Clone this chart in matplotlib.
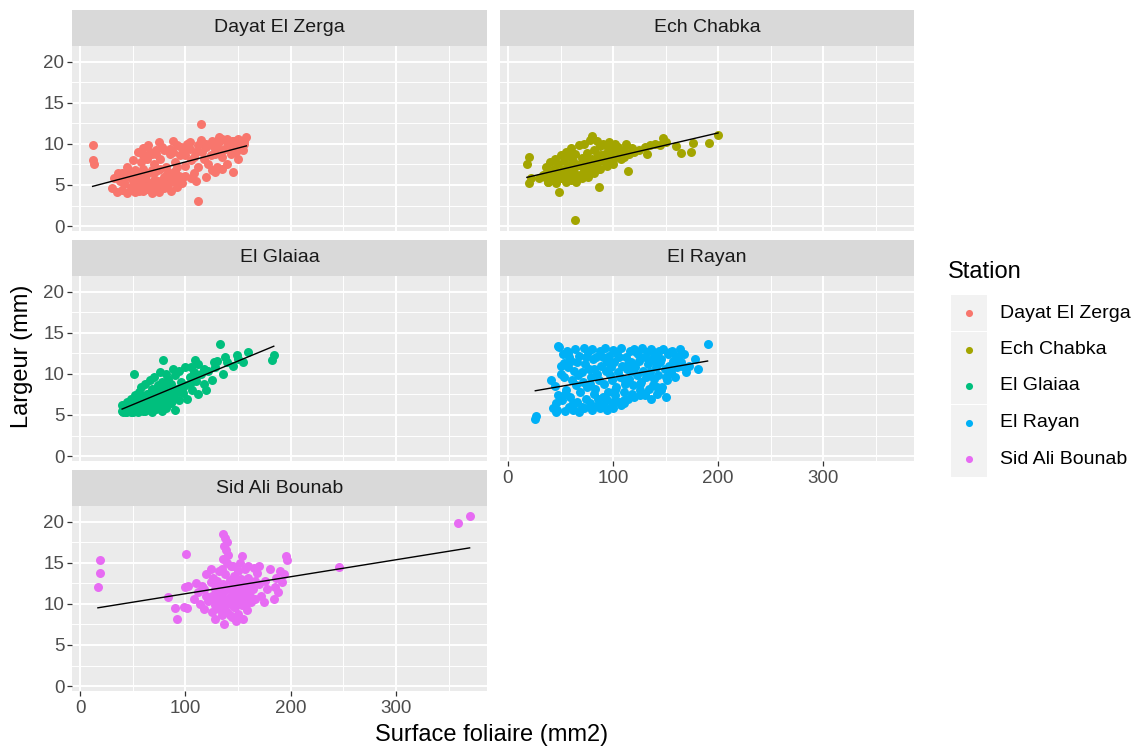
import numpy as np
import matplotlib
matplotlib.use("Agg")
import matplotlib.pyplot as plt
from matplotlib.patches import Rectangle

plt.rcParams["font.family"] = ["Liberation Sans", "DejaVu Sans"]

# ---- data: leaf area (mm2) vs leaf width (mm), per station ----
stations = ["Dayat El Zerga", "Ech Chabka", "El Glaiaa", "El Rayan", "Sid Ali Bounab"]
colors = ["#F8766D", "#A3A500", "#00BF7D", "#00B0F6", "#E76BF3"]

zerga_x = [12, 12, 13, 112, 115, 158, 155,
           30, 35, 40, 42, 45, 48, 50, 52, 55, 55, 58, 60, 60, 62, 64, 65, 67, 68, 70, 70,
           72, 74, 75, 76, 78, 80, 80, 82, 84, 85, 86, 88, 90, 90, 92, 95,
           40, 45, 50, 52, 55, 58, 60, 62, 65, 68, 72, 75, 78, 85, 88, 92, 95, 98, 100, 102,
           105, 108, 110, 112, 115, 118, 120, 120, 122, 125, 125, 128, 130, 130, 132, 135,
           135, 138, 140, 140, 143, 145, 145, 148, 150, 150, 152, 105, 110, 100, 97, 128,
           38, 42, 46, 50, 54, 58, 62, 66, 70, 74, 78, 82, 86, 90, 94,
           44, 52, 60, 68, 76, 84, 92, 48, 56, 64, 72, 80, 88,
           100, 104, 108, 112, 116, 120, 124, 128, 132, 136, 140, 144, 148, 152, 156,
           32, 36, 44, 48, 140, 146, 150, 154, 156, 130, 135, 125,
           60, 66, 72, 80, 88, 96, 104, 64]
zerga_y = [9.8, 8.0, 7.5, 3.0, 12.4, 10.8, 9.3,
           4.6, 4.2, 4.4, 5.3, 4.0, 4.8, 5.5, 4.1, 4.6, 6.2, 5.0, 4.3, 7.0, 5.8, 4.5, 6.5, 5.2, 4.0, 7.5, 5.6,
           4.8, 6.8, 4.2, 8.2, 5.5, 6.0, 4.6, 7.2, 5.0, 8.8, 4.3, 6.4, 5.3, 7.8, 4.8, 6.0,
           6.5, 7.2, 8.0, 6.8, 9.0, 7.8, 9.5, 8.4, 9.8, 8.8, 9.2, 10.2, 9.6, 9.4, 10.3, 9.8, 8.6, 9.2, 7.3, 10.0,
           8.0, 6.5, 9.0, 7.2, 10.5, 8.2, 6.0, 9.6, 7.6, 10.4, 6.8, 8.8, 9.9, 7.2, 10.8, 8.4,
           7.0, 9.4, 7.6, 10.2, 8.8, 9.8, 6.6, 10.3, 8.2, 9.6, 10.0, 5.8, 5.5, 6.1, 5.2, 6.6,
           5.5, 5.1, 6.1, 4.9, 5.7, 5.3, 5.9, 4.9, 6.5, 5.5, 5.1, 6.1, 5.7, 6.7, 6.1,
           6.0, 5.8, 6.4, 6.8, 7.0, 6.6, 7.2, 4.4, 4.3, 4.9, 4.4, 5.2, 5.8,
           8.6, 9.4, 8.4, 9.8, 9.0, 10.0, 8.6, 9.4, 10.2, 9.2, 9.6, 10.4, 9.0, 9.8, 10.4,
           5.8, 6.4, 6.2, 6.6, 10.6, 10.4, 10.6, 10.2, 10.0, 10.4, 10.6, 9.8,
           8.6, 9.0, 8.8, 9.2, 9.0, 9.6, 10.2, 8.2]

chabka_x = [18, 20, 20, 22, 49, 64, 87, 114, 148, 165, 174, 176, 160, 191, 200,
            35, 36, 38, 40, 40, 42, 44, 45, 46, 48, 48, 50, 50, 52, 53, 55, 55, 56, 58, 58,
            60, 60, 62, 62, 64, 65, 66, 67, 68, 70, 70, 72, 72, 74, 75, 76, 78, 78, 80, 80,
            82, 82, 84, 85, 86, 88, 88, 90, 90, 92, 94, 95, 96, 98, 100, 100, 102, 104, 105,
            108, 110, 112, 115, 118, 120, 125, 130, 135, 140, 132, 145, 150,
            30, 33, 37, 41, 45, 49, 53, 57, 61, 65, 69, 73, 77, 81, 85, 89, 93, 97, 101, 105,
            38, 46, 54, 62, 70, 78, 86, 94, 100, 110, 60]
chabka_y = [7.5, 8.45, 5.2, 5.8, 4.2, 0.7, 4.8, 6.7, 10.7, 8.9, 9.0, 10.1, 9.7, 10.1, 11.1,
            6.0, 7.2, 5.3, 6.5, 7.8, 5.6, 6.9, 8.2, 5.2, 6.2, 7.5, 5.8, 8.6, 6.8, 7.9, 5.4, 9.0, 6.4, 7.3, 8.5,
            5.6, 9.5, 6.7, 7.9, 8.8, 5.3, 6.2, 7.4, 9.8, 8.3, 5.8, 6.9, 10.0, 7.6, 8.9, 6.0, 10.5, 7.2, 11.0, 8.1,
            6.4, 9.3, 7.6, 10.3, 8.6, 6.9, 9.7, 7.9, 10.0, 8.8, 7.3, 9.5, 10.2, 8.3, 9.0, 7.6, 10.0, 8.7, 9.6,
            8.2, 9.3, 10.0, 8.8, 9.5, 9.0, 9.3, 9.6, 9.8, 10.0, 8.8, 9.8, 10.2,
            5.8, 6.2, 6.0, 6.4, 6.6, 6.3, 6.8, 7.0, 6.8, 7.3, 7.6, 7.4, 7.9, 8.0, 8.2, 8.6, 8.4, 8.9, 9.2, 9.0,
            5.4, 5.6, 5.9, 6.0, 6.3, 6.6, 7.0, 7.6, 8.0, 8.4, 6.2]

glaiaa_x = [133, 184, 182, 51, 79, 109, 120, 127, 155, 149, 136, 125,
            40, 40, 42, 44, 45, 46, 48, 48, 50, 52, 52, 54, 55, 56, 57, 58, 60, 60, 62, 62,
            64, 64, 66, 66, 68, 68, 70, 70, 72, 72, 74, 74, 76, 76, 78, 78, 80, 80, 82, 82,
            84, 84, 86, 86, 88, 88, 90, 90, 92, 94, 94, 96, 98, 100, 100, 102, 104, 106, 108,
            110, 112, 115, 118, 122, 128, 140, 145,
            41, 43, 45, 47, 49, 51, 53, 55, 57, 59, 61, 63, 65, 67, 69, 71, 73, 75, 77, 79,
            81, 83, 85, 87, 89, 44, 50, 56, 62, 68, 74, 80, 86, 92, 98, 104, 110,
            105, 112, 118, 130, 138, 150, 160]
glaiaa_y = [13.6, 12.3, 11.7, 10.0, 11.65, 11.65, 8.0, 11.45, 11.4, 12.3, 10.0, 9.3,
            5.5, 6.2, 5.8, 5.3, 6.6, 5.9, 5.4, 7.0, 6.2, 5.6, 7.4, 6.6, 5.3, 7.8, 6.0, 8.4, 5.5, 7.1, 6.5, 8.8,
            5.8, 7.6, 9.2, 6.9, 5.4, 8.2, 6.2, 9.6, 7.4, 5.7, 8.6, 6.6, 10.2, 7.9, 5.5, 9.0, 6.8, 8.3, 10.0, 5.8,
            7.5, 9.4, 6.4, 8.8, 10.6, 7.2, 5.6, 9.8, 8.1, 6.8, 10.4, 9.0, 7.7, 10.8, 8.6, 6.9, 9.6, 8.0, 10.2,
            9.1, 7.6, 10.0, 8.8, 10.4, 10.8, 11.4, 11.0,
            5.4, 6.0, 5.6, 6.3, 5.8, 6.6, 6.1, 6.9, 6.4, 7.1, 6.7, 7.3, 6.0, 7.6, 6.5, 7.9, 7.0, 8.1, 6.6, 8.4,
            7.3, 8.7, 6.9, 8.2, 7.5, 5.3, 5.4, 5.6, 5.5, 5.7, 5.9, 6.2, 6.6, 7.8, 8.4, 8.8, 9.6,
            10.8, 11.2, 10.6, 11.6, 12.0, 11.8, 12.6]

rayan_x = [26, 27, 190, 181, 178, 172, 41, 43, 46, 48, 53, 57,
           45, 47, 46, 49, 50, 48, 52, 53, 51, 54, 56, 57, 55, 58, 60, 61, 59, 62,
           64, 63, 65, 66, 68, 67, 69, 70, 68, 72, 73, 71, 74, 72, 76, 77, 75, 78,
           80, 81, 79, 82, 80, 84, 85, 83, 86, 88, 89, 87, 90, 88, 92, 93, 91, 94,
           96, 97, 95, 98, 100, 101, 99, 102, 100, 104, 105, 103, 106, 108, 109, 107, 110, 108,
           112, 113, 111, 114, 116, 117, 115, 118, 120, 121, 119, 124, 125, 123, 126,
           128, 129, 127, 130, 132, 133, 131, 134, 136, 137, 135, 138, 136, 140, 141, 139, 142,
           144, 145, 143, 146, 148, 149, 147, 150, 152, 153, 151, 156, 157, 155, 160, 161, 159,
           164, 165, 168, 169,
           50, 58, 66, 74, 82, 90, 98, 106, 114, 122, 130, 138, 146, 154, 162,
           54, 62, 70, 78, 86, 94, 102, 110, 118, 126, 134, 142, 150, 158, 166,
           62, 78, 94, 110, 126, 142, 100, 120, 130, 90, 110]
rayan_y = [4.5, 4.9, 13.6, 10.6, 11.8, 11.0, 9.2, 5.9, 5.3, 13.4, 11.3, 12.5,
           8.5, 5.6, 6.4, 13.3, 11.0, 7.4, 12.4, 9.6, 6.8, 5.5, 12.8, 10.8, 8.0, 6.0, 11.6, 9.2, 7.2, 5.6,
           13.0, 10.4, 8.6, 6.6, 12.2, 9.8, 7.8, 6.0, 5.4, 13.2, 11.2, 9.0, 7.0, 5.8, 12.6, 10.6, 8.4, 6.4,
           13.0, 11.8, 9.6, 7.6, 5.6, 12.0, 10.0, 8.2, 6.2, 12.8, 11.0, 9.2, 7.2, 5.8, 13.2, 10.4, 8.8, 6.8,
           12.2, 9.8, 7.8, 6.0, 12.9, 11.4, 9.2, 7.4, 5.8, 12.4, 10.2, 8.4, 6.6, 13.1, 11.0, 9.6, 7.8, 6.2,
           12.0, 10.6, 8.8, 7.0, 12.8, 11.4, 9.4, 7.6, 13.0, 10.8, 8.6, 12.4, 11.6, 9.8, 8.0,
           13.2, 10.4, 9.0, 7.4, 12.6, 11.2, 9.6, 8.2, 13.0, 11.8, 10.2, 8.6, 7.0, 12.2, 10.8, 9.4, 7.6,
           12.8, 11.4, 9.8, 8.0, 13.0, 10.6, 8.4, 7.2, 12.4, 11.0, 9.2, 12.8, 11.6, 10.2, 12.2, 10.8, 9.6,
           13.0, 11.4, 12.4, 10.2,
           10.0, 12.0, 11.4, 12.0, 10.6, 12.0, 10.8, 12.0, 11.2, 12.6, 12.0, 12.6, 11.8, 12.6, 12.0,
           7.6, 6.4, 10.2, 8.8, 7.0, 11.4, 8.0, 9.4, 10.4, 8.8, 10.0, 11.2, 9.6, 11.4, 11.0,
           5.9, 6.0, 5.6, 6.4, 7.4, 8.4, 6.6, 7.2, 7.6, 6.2, 6.8]

bounab_x = [19, 19, 17, 359, 370, 246, 101, 103, 90, 92, 102, 84, 128, 137,
            136, 138, 140, 137, 139, 141, 136, 140, 143, 135, 154,
            196, 197, 190, 186, 192, 185, 188, 184, 194, 180, 176, 172, 175, 168, 165, 162, 170,
            112, 114, 116, 118, 120, 120, 122, 124, 125, 126, 128, 130, 130, 132, 132, 134, 135,
            136, 138, 138, 140, 140, 142, 143, 144, 145, 146, 147, 148, 149, 150, 150, 152, 153,
            154, 155, 156, 157, 158, 159, 160, 162, 164, 166, 155, 148, 128, 118, 110, 108, 100,
            99, 124, 133, 145, 152, 160, 142,
            125, 128, 131, 134, 137, 140, 143, 146, 149, 152, 155, 158, 161,
            130, 136, 142, 148, 154, 160, 166, 170, 178]
bounab_y = [15.3, 13.8, 12.0, 19.8, 20.7, 14.5, 16.1, 12.2, 9.5, 8.2, 9.5, 10.8, 8.2, 7.5,
            18.5, 18.0, 17.5, 17.0, 16.5, 16.0, 15.5, 15.0, 14.6, 14.2, 15.8,
            15.8, 15.3, 14.0, 13.2, 12.6, 12.0, 11.4, 10.6, 13.6, 14.2, 12.8, 11.0, 10.2, 13.8, 14.4, 12.4, 14.6,
            11.5, 10.0, 12.2, 9.4, 13.6, 11.0, 10.4, 12.6, 9.0, 13.2, 11.8, 10.2, 12.8, 9.4, 14.0, 11.2, 8.6,
            12.4, 10.6, 13.6, 9.0, 11.8, 12.9, 10.0, 8.4, 11.4, 13.4, 9.6, 12.2, 10.6, 14.0, 8.8, 11.8, 13.0,
            9.8, 12.4, 10.8, 14.2, 11.4, 9.2, 13.2, 10.2, 11.8, 12.8, 8.2, 7.9, 10.6, 11.8, 12.5, 10.6, 12.0,
            9.6, 14.2, 12.0, 14.6, 15.0, 14.6, 8.6,
            11.0, 9.8, 12.2, 10.4, 11.6, 10.0, 12.0, 9.6, 11.2, 10.4, 11.6, 10.0, 11.0,
            11.4, 9.6, 10.8, 12.6, 11.2, 12.0, 10.6, 12.4, 11.8]

series_x = [zerga_x, chabka_x, glaiaa_x, rayan_x, bounab_x]
series_y = [zerga_y, chabka_y, glaiaa_y, rayan_y, bounab_y]

x_ticks = [0, 100, 200, 300]
y_ticks = [0, 5, 10, 15, 20]

# ---- figure layout (pixel boxes) ----
W, H = 1141, 751
fig = plt.figure(figsize=(W / 100, H / 100), dpi=100)
fig.patch.set_facecolor("white")


def box(x0, y0, x1, y1):
    return fig.add_axes([x0 / W, 1 - y1 / H, (x1 - x0) / W, (y1 - y0) / H])


cols = [(72, 487), (500, 914)]
rows = [(10, 46, 231), (240, 276, 461), (470, 506, 691)]
positions = [(0, 0), (0, 1), (1, 0), (1, 1), (2, 0)]
bottom_panels = {3, 4}

XLIM = (-7.6, 386.5)
YLIM = (-0.6, 21.9)
TICK_COLOR = "#333333"
LABEL_COLOR = "#4D4D4D"

for i, (name, col, xs, ys) in enumerate(zip(stations, colors, series_x, series_y)):
    r, c = positions[i]
    x0, x1 = cols[c]
    s_top, p_top, p_bot = rows[r]

    # strip
    sax = box(x0, s_top, x1, p_top)
    sax.set_facecolor("#D9D9D9")
    sax.set_xticks([]); sax.set_yticks([])
    for sp in sax.spines.values():
        sp.set_visible(False)
    sax.text(0.5, 0.5, name, ha="center", va="center", fontsize=14, color="#1A1A1A",
             transform=sax.transAxes)

    ax = box(x0, p_top, x1, p_bot)
    ax.set_facecolor("#EBEBEB")
    for sp in ax.spines.values():
        sp.set_visible(False)
    ax.set_xlim(*XLIM)
    ax.set_ylim(*YLIM)
    ax.set_xticks(x_ticks)
    ax.set_xticks([50, 150, 250, 350], minor=True)
    ax.set_yticks(y_ticks)
    ax.set_yticks([2.5, 7.5, 12.5, 17.5], minor=True)
    ax.grid(which="major", color="white", lw=1.4)
    ax.grid(which="minor", color="white", lw=0.7)
    ax.set_axisbelow(True)
    ax.tick_params(which="minor", length=0)
    ax.tick_params(which="major", color=TICK_COLOR, width=0.9, length=3.5,
                   labelcolor=LABEL_COLOR, labelsize=13.5, pad=2)
    if c == 0:
        ax.tick_params(axis="y", labelleft=True)
    else:
        ax.tick_params(axis="y", length=0, labelleft=False)
    if i in bottom_panels:
        ax.tick_params(axis="x", labelbottom=True, pad=3)
    else:
        ax.tick_params(axis="x", length=0, labelbottom=False)

    xa = np.asarray(xs, float)
    ya = np.asarray(ys, float)
    ax.scatter(xa, ya, s=42, color=col, linewidths=0, zorder=3)

    # least-squares line over the station's range
    slope, intercept = np.polyfit(xa, ya, 1)
    xl = np.array([xa.min(), xa.max()])
    ax.plot(xl, intercept + slope * xl, color="black", lw=1.0, zorder=4)

# axis titles
fig.text(492 / W, 1 - 735 / H, "Surface foliaire (mm2)", ha="center", va="center",
         fontsize=17, color="black")
fig.text(22 / W, 1 - 356 / H, "Largeur (mm)", ha="center", va="center",
         rotation=90, fontsize=17, color="black")

# legend
fig.text(948 / W, 1 - 272 / H, "Station", ha="left", va="center", fontsize=17, color="black")
lax = box(950, 295, 1141, 477)
lax.set_xlim(950, 1141)
lax.set_ylim(477, 295)
lax.axis("off")
key_y = [313, 349.5, 386, 422.5, 459]
for name, col, ky in zip(stations, colors, key_y):
    lax.add_patch(Rectangle((951, ky - 18), 36, 36, facecolor="#F2F2F2", edgecolor="none"))
    lax.scatter([969], [ky], s=26, color=col, linewidths=0)
    lax.text(1000, ky, name, ha="left", va="center", fontsize=14, color="black")

fig.savefig("out.png", dpi=100)
